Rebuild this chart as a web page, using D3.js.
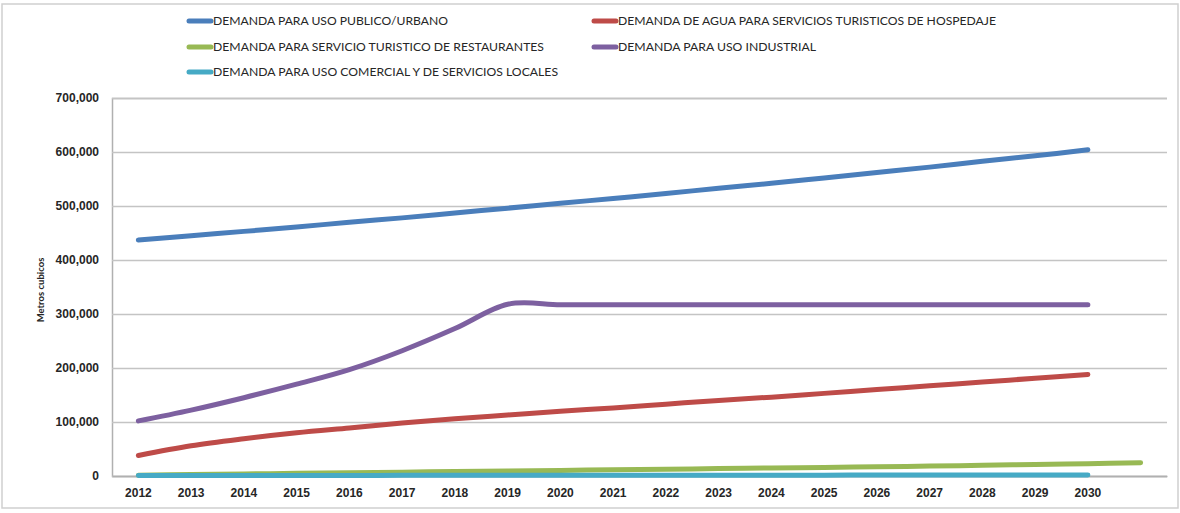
<!DOCTYPE html>
<meta charset="utf-8">
<style>
  body { margin: 0; background: #fff; }
  svg { font-family: Lato, "Open Sans", sans-serif; }
  .tick text { font-weight: bold; fill: #262626; font-size: 12px; }
  .legend text { font-size: 12px; fill: #262626; }
</style>
<body>
<div id="chart"></div>
<script src="https://d3js.org/d3.v7.min.js"></script>
<script>

// categories (last one is an unlabelled slot, the green series runs into it)
var years = ["2012","2013","2014","2015","2016","2017","2018","2019","2020","2021",
             "2022","2023","2024","2025","2026","2027","2028","2029","2030",""];

var yTicks = [0, 100000, 200000, 300000, 400000, 500000, 600000, 700000];

var publicoUrbano = [437000, 445000, 453000, 461000, 470000, 478000, 487000, 496000, 505000, 514000,
                     523000, 533000, 542000, 552000, 562000, 572000, 583000, 593000, 604000];
var hospedaje     = [38000, 56000, 69000, 80000, 89000, 98000, 106000, 113000, 120000, 126000,
                     133000, 140000, 146000, 153000, 160000, 167000, 174000, 181000, 188000];
var restaurantes  = [1500, 2700, 3800, 4900, 6000, 7100, 8200, 9300, 10400, 11500,
                     12600, 13700, 14800, 15900, 17100, 18400, 19800, 21300, 22900, 24600];
var industrial    = [102000, 122000, 145000, 170000, 197000, 232000, 273000, 318000, 317000, 317000,
                     317000, 317000, 317000, 317000, 317000, 317000, 317000, 317000, 317000];
var comercial     = [800, 900, 1000, 1000, 1100, 1200, 1200, 1300, 1300, 1400,
                     1400, 1500, 1500, 1600, 1700, 1700, 1800, 1900, 2000];

var seriesNames  = ["DEMANDA PARA USO PUBLICO/URBANO",
                    "DEMANDA DE AGUA PARA SERVICIOS TURISTICOS DE HOSPEDAJE",
                    "DEMANDA PARA SERVICIO TURISTICO DE RESTAURANTES",
                    "DEMANDA PARA USO INDUSTRIAL",
                    "DEMANDA PARA USO COMERCIAL Y DE SERVICIOS LOCALES"];
var seriesValues = [publicoUrbano, hospedaje, restaurantes, industrial, comercial];
var seriesColors = ["#4a7ebb", "#be4b48", "#98b954", "#7d60a0", "#46aac5"];

var W = 1180, H = 513;
var margin = {top: 98, right: 13, bottom: 37, left: 112};
var width = W - margin.left - margin.right,
    height = H - margin.top - margin.bottom;

var svg = d3.select("#chart").append("svg")
  .attr("width", W)
  .attr("height", H);

// outer frame
svg.append("rect")
  .attr("x", 2).attr("y", 4)
  .attr("width", W - 4).attr("height", H - 9)
  .attr("fill", "none")
  .attr("stroke", "#cfcfcf")
  .attr("stroke-width", 1.5);

var g = svg.append("g")
  .attr("transform", "translate(" + margin.left + "," + margin.top + ")");

var x = d3.scaleBand().domain(years).range([0, width]);
var y = d3.scaleLinear().domain([0, 700000]).range([height, 0]);

// gridlines + y axis
g.append("g")
  .call(d3.axisLeft(y).tickValues(yTicks).tickSize(-width).tickPadding(13)
    .tickFormat(d3.format(",")))
  .call(function(a) {
    a.select(".domain").attr("stroke", "#b0b0b0").attr("stroke-width", 1.5);
    a.selectAll(".tick line").attr("stroke", "#c4c4c4").attr("stroke-width", 1.5);
  });

// x axis
g.append("g")
  .attr("transform", "translate(0," + height + ")")
  .call(d3.axisBottom(x).tickSize(0).tickPadding(12))
  .call(function(a) {
    a.select(".domain").attr("stroke", "#b0b0b0").attr("stroke-width", 1.5);
  });

// y title
svg.append("text")
  .attr("transform", "translate(44,290) rotate(-90)")
  .attr("text-anchor", "middle")
  .style("font-size", "9.5px")
  .style("font-weight", "bold")
  .style("fill", "#262626")
  .text("Metros cubicos");

var line = d3.line()
  .x(function(d, i) { return x(years[i]) + x.bandwidth() / 2; })
  .y(function(d) { return y(d); })
  .curve(d3.curveCardinal.tension(0));

g.selectAll(".serie")
  .data(seriesValues)
  .enter().append("path")
  .attr("class", "serie")
  .attr("d", function(d) { return line(d); })
  .attr("fill", "none")
  .attr("stroke", function(d, i) { return seriesColors[i]; })
  .attr("stroke-width", 5)
  .attr("stroke-linecap", "round")
  .attr("stroke-linejoin", "round");

// legend, two columns
var legendPos = [[187, 21], [592, 21], [187, 47], [592, 47], [187, 72]];
var legendWidth = [235, 378, 331, 198, 345];

var legend = svg.append("g").attr("class", "legend");
seriesNames.forEach(function(name, i) {
  var p = legendPos[i];
  legend.append("line")
    .attr("x1", p[0] + 2).attr("x2", p[0] + 24)
    .attr("y1", p[1]).attr("y2", p[1])
    .attr("stroke", seriesColors[i])
    .attr("stroke-width", 5)
    .attr("stroke-linecap", "round");
  legend.append("text")
    .attr("x", p[0] + 26)
    .attr("y", p[1])
    .attr("dy", "0.35em")
    .attr("textLength", legendWidth[i])
    .attr("lengthAdjust", "spacingAndGlyphs")
    .text(name);
});

</script>
</body>
